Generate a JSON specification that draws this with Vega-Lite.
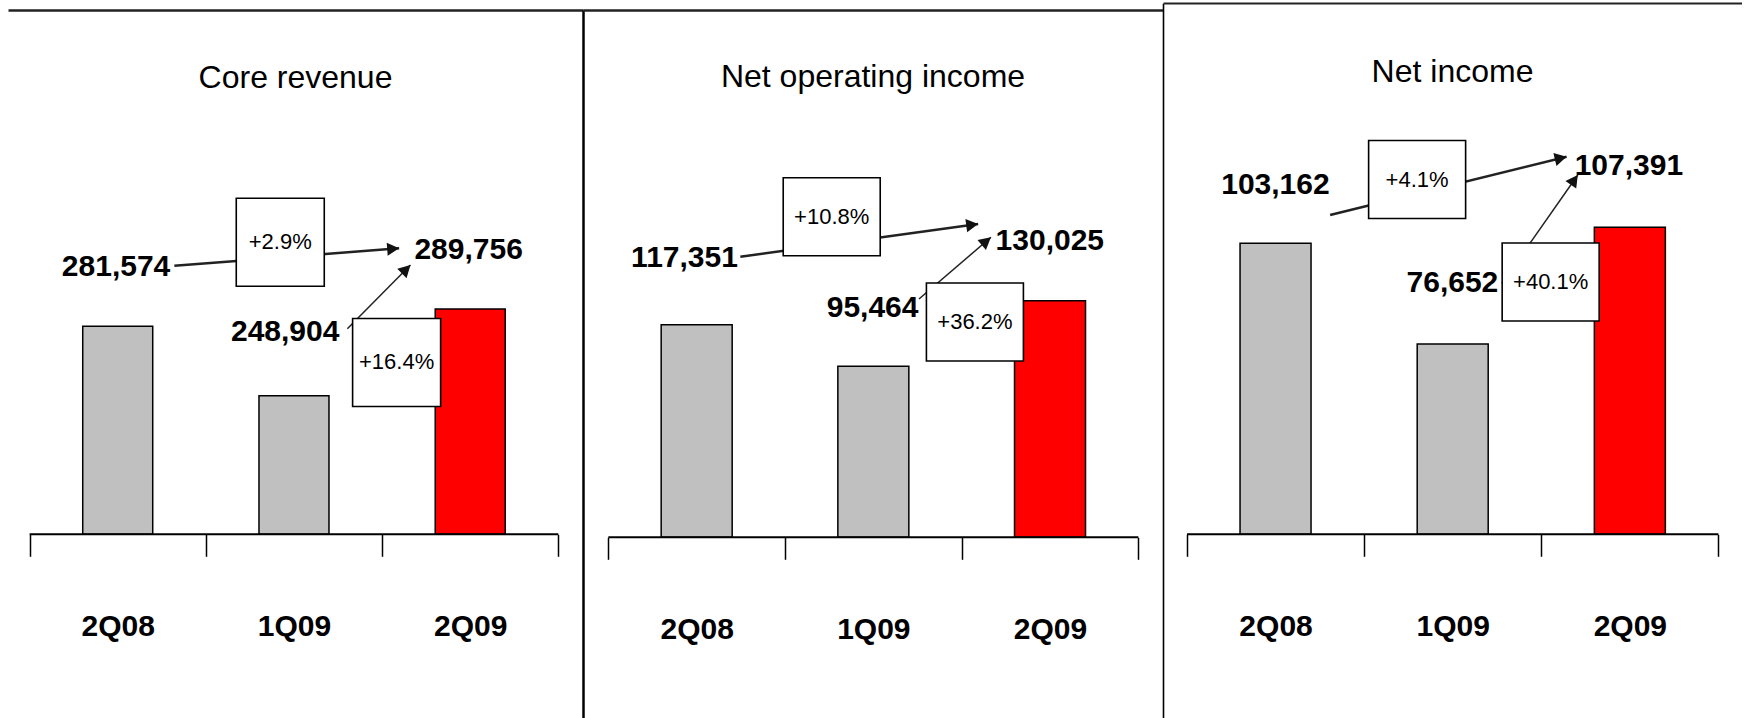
{
  "$schema": "https://vega.github.io/schema/vega-lite/v6.json",
  "background": "white",
  "padding": {"left": 8, "top": 0, "right": 0, "bottom": 0},
  "spacing": 0,
  "bounds": "flush",
  "config": {
    "view": {"stroke": null},
    "font": "Liberation Sans, Arial, sans-serif",
    "title": {"font": "Liberation Sans, Arial, sans-serif", "fontSize": 32, "fontWeight": "normal", "color": "#000", "anchor": "middle"},
    "text": {"font": "Liberation Sans, Arial, sans-serif", "color": "#000"}
  },
  "datasets": {
    "quarters": [
      {"metric": "Core revenue", "quarter": "2Q08", "pos": 1, "value": 281574, "label_pos": 0.9906, "label_at": 309710},
      {"metric": "Core revenue", "quarter": "1Q09", "pos": 2, "value": 248904, "label_pos": 1.9501, "label_at": 278679},
      {"metric": "Core revenue", "quarter": "2Q09", "pos": 3, "value": 289756, "label_pos": 2.991, "label_at": 317586},
      {"metric": "Net operating income", "quarter": "2Q08", "pos": 1, "value": 117351, "label_pos": 0.9311, "label_at": 152416},
      {"metric": "Net operating income", "quarter": "1Q09", "pos": 2, "value": 95464, "label_pos": 1.9958, "label_at": 126031},
      {"metric": "Net operating income", "quarter": "2Q09", "pos": 3, "value": 130025, "label_pos": 2.9988, "label_at": 161651},
      {"metric": "Net income", "quarter": "2Q08", "pos": 1, "value": 103162, "label_pos": 0.9993, "label_at": 118603},
      {"metric": "Net income", "quarter": "1Q09", "pos": 2, "value": 76652, "label_pos": 1.9983, "label_at": 92622},
      {"metric": "Net income", "quarter": "2Q09", "pos": 3, "value": 107391, "label_pos": 2.9946, "label_at": 123583}
    ],
    "changes": [
      {"metric": "Core revenue", "basis": "year", "change": 0.029, "box_pos": 1.9222, "box_at": 321264, "tail_pos": 1.3212, "tail_at": 310182, "head_pos": 2.5968, "head_at": 318388, "heading": 85.65},
      {"metric": "Core revenue", "basis": "quarter", "change": 0.164, "box_pos": 2.5823, "box_at": 264531, "tail_pos": 2.303, "tail_at": 280424, "head_pos": 2.6609, "head_at": 310512, "heading": 45.4},
      {"metric": "Net operating income", "basis": "year", "change": 0.108, "box_pos": 1.7644, "box_at": 174369, "tail_pos": 1.2471, "tail_at": 153261, "head_pos": 2.5933, "head_at": 170516, "heading": 82.3},
      {"metric": "Net operating income", "basis": "quarter", "change": 0.362, "box_pos": 2.5749, "box_at": 118802, "tail_pos": 2.2584, "tail_at": 130939, "head_pos": 2.6656, "head_at": 163498, "heading": 50.2},
      {"metric": "Net income", "basis": "year", "change": 0.041, "box_pos": 1.7992, "box_at": 119973, "tail_pos": 1.3082, "tail_at": 110619, "head_pos": 2.6429, "head_at": 125981, "heading": 76.4},
      {"metric": "Net income", "basis": "quarter", "change": 0.401, "box_pos": 2.553, "box_at": 92964, "tail_pos": 2.2773, "tail_at": 92622, "head_pos": 2.7062, "head_at": 121159, "heading": 35.5}
    ]
  },
  "hconcat": [
    {
      "width": 575,
      "height": 718,
      "title": {"text": "Core revenue", "offset": -94.7},
      "layer": [
        {
          "data": {"name": "quarters"},
          "transform": [{"filter": "datum.metric === 'Core revenue'"}],
          "mark": {"type": "bar", "width": 70, "stroke": "#000", "strokeWidth": 1.5},
          "encoding": {
            "x": {
              "field": "pos", "type": "quantitative",
              "scale": {"domain": [0.40578, 3.6115], "nice": false, "zero": false},
              "axis": {
                "orient": "bottom", "offset": -183.7, "title": null, "grid": false, "domain": false,
                "values": [0.5, 1, 1.5, 2, 2.5, 3, 3.5],
                "tickSize": 22, "tickColor": "#000", "tickWidth": 1.5,
                "tickOpacity": {"condition": {"test": "datum.value % 1 !== 0", "value": 1}, "value": 0},
                "labelExpr": "datum.value === 1 ? '2Q08' : datum.value === 2 ? '1Q09' : datum.value === 3 ? '2Q09' : ''",
                "labelFont": "Liberation Sans, Arial, sans-serif",
                "labelFontSize": 30, "labelFontWeight": "bold", "labelColor": "#000",
                "labelPadding": 70, "labelBaseline": "middle", "labelFlush": false, "labelOverlap": false, "labelBound": false
              }
            },
            "y": {
              "field": "value", "type": "quantitative",
              "scale": {"domain": [96877, 430770], "range": [718, 10], "nice": false, "zero": false},
              "axis": {"orient": "right", "title": null, "labels": false, "ticks": false, "domain": true, "domainColor": "#000", "domainWidth": 2.5, "grid": true, "values": [430770], "gridColor": "#222", "gridWidth": 2.5, "gridOpacity": 1}
            },
            "y2": {"datum": 183510},
            "color": {"field": "quarter", "type": "nominal", "scale": {"domain": ["2Q08", "1Q09", "2Q09"], "range": ["#C0C0C0", "#C0C0C0", "#FF0000"]}, "legend": null}
          }
        },
        {
          "data": {"values": [{}]},
          "mark": {"type": "rule", "color": "#000", "strokeWidth": 2},
          "encoding": {
            "x": {"datum": 0.5, "type": "quantitative", "title": null},
            "x2": {"datum": 3.5},
            "y": {"datum": 183510, "type": "quantitative", "title": null}
          }
        },
        {
          "data": {"name": "changes"},
          "transform": [{"filter": "datum.metric === 'Core revenue'"}],
          "mark": {"type": "rule", "color": "#222"},
          "encoding": {
            "x": {"field": "tail_pos", "type": "quantitative", "title": null},
            "x2": {"field": "head_pos"},
            "y": {"field": "tail_at", "type": "quantitative", "title": null},
            "y2": {"field": "head_at"},
            "strokeWidth": {"field": "basis", "type": "nominal", "scale": {"domain": ["year", "quarter"], "range": [2.5, 1.5]}, "legend": null}
          }
        },
        {
          "data": {"name": "changes"},
          "transform": [{"filter": "datum.metric === 'Core revenue'"}],
          "mark": {"type": "point", "shape": "M0,0L-0.55,1L0.55,1Z", "size": 576, "filled": true, "fill": "#111", "strokeWidth": 0, "opacity": 1},
          "encoding": {
            "x": {"field": "head_pos", "type": "quantitative", "title": null},
            "y": {"field": "head_at", "type": "quantitative", "title": null},
            "angle": {"field": "heading", "type": "quantitative", "scale": null}
          }
        },
        {
          "data": {"name": "changes"},
          "transform": [{"filter": "datum.metric === 'Core revenue'"}],
          "mark": {"type": "point", "shape": "square", "size": 7744, "filled": true, "fill": "#fff", "stroke": "#000", "strokeWidth": 1.6, "opacity": 1},
          "encoding": {
            "x": {"field": "box_pos", "type": "quantitative", "title": null},
            "y": {"field": "box_at", "type": "quantitative", "title": null}
          }
        },
        {
          "data": {"name": "changes"},
          "transform": [{"filter": "datum.metric === 'Core revenue'"}],
          "mark": {"type": "text", "fontSize": 22, "baseline": "middle", "align": "center"},
          "encoding": {
            "x": {"field": "box_pos", "type": "quantitative", "title": null},
            "y": {"field": "box_at", "type": "quantitative", "title": null},
            "text": {"field": "change", "type": "quantitative", "format": "+.1%"}
          }
        },
        {
          "data": {"name": "quarters"},
          "transform": [{"filter": "datum.metric === 'Core revenue'"}],
          "mark": {"type": "text", "fontSize": 30, "fontWeight": "bold", "baseline": "middle", "align": "center"},
          "encoding": {
            "x": {"field": "label_pos", "type": "quantitative", "title": null},
            "y": {"field": "label_at", "type": "quantitative", "title": null},
            "text": {"field": "value", "type": "quantitative", "format": ","}
          }
        }
      ]
    },
    {
      "width": 580,
      "height": 718,
      "title": {"text": "Net operating income", "offset": -94.2},
      "layer": [
        {
          "data": {"name": "quarters"},
          "transform": [{"filter": "datum.metric === 'Net operating income'"}],
          "mark": {"type": "bar", "width": 71, "stroke": "#000", "strokeWidth": 1.5},
          "encoding": {
            "x": {
              "field": "pos", "type": "quantitative",
              "scale": {"domain": [0.38485, 3.61125], "nice": false, "zero": false},
              "axis": {
                "orient": "bottom", "offset": -180.7, "title": null, "grid": false, "domain": false,
                "values": [0.5, 1, 1.5, 2, 2.5, 3, 3.5],
                "tickSize": 22, "tickColor": "#000", "tickWidth": 1.5,
                "tickOpacity": {"condition": {"test": "datum.value % 1 !== 0", "value": 1}, "value": 0},
                "labelExpr": "datum.value === 1 ? '2Q08' : datum.value === 2 ? '1Q09' : datum.value === 3 ? '2Q09' : ''",
                "labelFont": "Liberation Sans, Arial, sans-serif",
                "labelFontSize": 30, "labelFontWeight": "bold", "labelColor": "#000",
                "labelPadding": 70, "labelBaseline": "middle", "labelFlush": false, "labelOverlap": false, "labelBound": false
              }
            },
            "y": {
              "field": "value", "type": "quantitative",
              "scale": {"domain": [-90167, 286980], "range": [718, 3.3], "nice": false, "zero": false},
              "axis": {"orient": "right", "title": null, "labels": false, "ticks": false, "domain": true, "domainColor": "#000", "domainWidth": 1.6, "grid": true, "values": [283708], "gridColor": "#222", "gridWidth": 2.5, "gridOpacity": 1}
            },
            "y2": {"datum": 5188},
            "color": {"field": "quarter", "type": "nominal", "scale": {"domain": ["2Q08", "1Q09", "2Q09"], "range": ["#C0C0C0", "#C0C0C0", "#FF0000"]}, "legend": null}
          }
        },
        {
          "data": {"values": [{}]},
          "mark": {"type": "rule", "color": "#000", "strokeWidth": 2},
          "encoding": {
            "x": {"datum": 0.5, "type": "quantitative", "title": null},
            "x2": {"datum": 3.5},
            "y": {"datum": 5188, "type": "quantitative", "title": null}
          }
        },
        {
          "data": {"name": "changes"},
          "transform": [{"filter": "datum.metric === 'Net operating income'"}],
          "mark": {"type": "rule", "color": "#222"},
          "encoding": {
            "x": {"field": "tail_pos", "type": "quantitative", "title": null},
            "x2": {"field": "head_pos"},
            "y": {"field": "tail_at", "type": "quantitative", "title": null},
            "y2": {"field": "head_at"},
            "strokeWidth": {"field": "basis", "type": "nominal", "scale": {"domain": ["year", "quarter"], "range": [2.5, 1.5]}, "legend": null}
          }
        },
        {
          "data": {"name": "changes"},
          "transform": [{"filter": "datum.metric === 'Net operating income'"}],
          "mark": {"type": "point", "shape": "M0,0L-0.55,1L0.55,1Z", "size": 576, "filled": true, "fill": "#111", "strokeWidth": 0, "opacity": 1},
          "encoding": {
            "x": {"field": "head_pos", "type": "quantitative", "title": null},
            "y": {"field": "head_at", "type": "quantitative", "title": null},
            "angle": {"field": "heading", "type": "quantitative", "scale": null}
          }
        },
        {
          "data": {"name": "changes"},
          "transform": [{"filter": "datum.metric === 'Net operating income'"}],
          "mark": {"type": "point", "shape": "M-1,-0.804L1,-0.804L1,0.804L-1,0.804Z", "size": 9409, "filled": true, "fill": "#fff", "stroke": "#000", "strokeWidth": 1.6, "opacity": 1},
          "encoding": {
            "x": {"field": "box_pos", "type": "quantitative", "title": null},
            "y": {"field": "box_at", "type": "quantitative", "title": null}
          }
        },
        {
          "data": {"name": "changes"},
          "transform": [{"filter": "datum.metric === 'Net operating income'"}],
          "mark": {"type": "text", "fontSize": 22, "baseline": "middle", "align": "center"},
          "encoding": {
            "x": {"field": "box_pos", "type": "quantitative", "title": null},
            "y": {"field": "box_at", "type": "quantitative", "title": null},
            "text": {"field": "change", "type": "quantitative", "format": "+.1%"}
          }
        },
        {
          "data": {"name": "quarters"},
          "transform": [{"filter": "datum.metric === 'Net operating income'"}],
          "mark": {"type": "text", "fontSize": 30, "fontWeight": "bold", "baseline": "middle", "align": "center"},
          "encoding": {
            "x": {"field": "label_pos", "type": "quantitative", "title": null},
            "y": {"field": "label_at", "type": "quantitative", "title": null},
            "text": {"field": "value", "type": "quantitative", "format": ","}
          }
        }
      ]
    },
    {
      "width": 579,
      "height": 718,
      "title": {"text": "Net income", "offset": -89},
      "layer": [
        {
          "data": {"name": "quarters"},
          "transform": [{"filter": "datum.metric === 'Net income'"}],
          "mark": {"type": "bar", "width": 71, "stroke": "#000", "strokeWidth": 1.5},
          "encoding": {
            "x": {
              "field": "pos", "type": "quantitative",
              "scale": {"domain": [0.39294, 3.60484], "nice": false, "zero": false},
              "axis": {
                "orient": "bottom", "offset": -183.7, "title": null, "grid": false, "domain": false,
                "values": [0.5, 1, 1.5, 2, 2.5, 3, 3.5],
                "tickSize": 22, "tickColor": "#000", "tickWidth": 1.5,
                "tickOpacity": {"condition": {"test": "datum.value % 1 !== 0", "value": 1}, "value": 0},
                "labelExpr": "datum.value === 1 ? '2Q08' : datum.value === 2 ? '1Q09' : datum.value === 3 ? '2Q09' : ''",
                "labelFont": "Liberation Sans, Arial, sans-serif",
                "labelFontSize": 30, "labelFontWeight": "bold", "labelColor": "#000",
                "labelPadding": 70, "labelBaseline": "middle", "labelFlush": false, "labelOverlap": false, "labelBound": false
              }
            },
            "y": {
              "field": "value", "type": "quantitative",
              "scale": {"domain": [-21922, 166402], "range": [718, 3.3], "nice": false, "zero": false},
              "axis": {"orient": "right", "title": null, "labels": false, "ticks": false, "domain": true, "domainColor": "#888", "domainWidth": 1, "grid": true, "values": [166400], "gridColor": "#222", "gridWidth": 2, "gridOpacity": 1}
            },
            "y2": {"datum": 26483},
            "color": {"field": "quarter", "type": "nominal", "scale": {"domain": ["2Q08", "1Q09", "2Q09"], "range": ["#C0C0C0", "#C0C0C0", "#FF0000"]}, "legend": null}
          }
        },
        {
          "data": {"values": [{}]},
          "mark": {"type": "rule", "color": "#000", "strokeWidth": 2},
          "encoding": {
            "x": {"datum": 0.5, "type": "quantitative", "title": null},
            "x2": {"datum": 3.5},
            "y": {"datum": 26483, "type": "quantitative", "title": null}
          }
        },
        {
          "data": {"name": "changes"},
          "transform": [{"filter": "datum.metric === 'Net income'"}],
          "mark": {"type": "rule", "color": "#222"},
          "encoding": {
            "x": {"field": "tail_pos", "type": "quantitative", "title": null},
            "x2": {"field": "head_pos"},
            "y": {"field": "tail_at", "type": "quantitative", "title": null},
            "y2": {"field": "head_at"},
            "strokeWidth": {"field": "basis", "type": "nominal", "scale": {"domain": ["year", "quarter"], "range": [2.5, 1.5]}, "legend": null}
          }
        },
        {
          "data": {"name": "changes"},
          "transform": [{"filter": "datum.metric === 'Net income'"}],
          "mark": {"type": "point", "shape": "M0,0L-0.55,1L0.55,1Z", "size": 576, "filled": true, "fill": "#111", "strokeWidth": 0, "opacity": 1},
          "encoding": {
            "x": {"field": "head_pos", "type": "quantitative", "title": null},
            "y": {"field": "head_at", "type": "quantitative", "title": null},
            "angle": {"field": "heading", "type": "quantitative", "scale": null}
          }
        },
        {
          "data": {"name": "changes"},
          "transform": [{"filter": "datum.metric === 'Net income'"}],
          "mark": {"type": "point", "shape": "M-1,-0.804L1,-0.804L1,0.804L-1,0.804Z", "size": 9409, "filled": true, "fill": "#fff", "stroke": "#000", "strokeWidth": 1.6, "opacity": 1},
          "encoding": {
            "x": {"field": "box_pos", "type": "quantitative", "title": null},
            "y": {"field": "box_at", "type": "quantitative", "title": null}
          }
        },
        {
          "data": {"name": "changes"},
          "transform": [{"filter": "datum.metric === 'Net income'"}],
          "mark": {"type": "text", "fontSize": 22, "baseline": "middle", "align": "center"},
          "encoding": {
            "x": {"field": "box_pos", "type": "quantitative", "title": null},
            "y": {"field": "box_at", "type": "quantitative", "title": null},
            "text": {"field": "change", "type": "quantitative", "format": "+.1%"}
          }
        },
        {
          "data": {"name": "quarters"},
          "transform": [{"filter": "datum.metric === 'Net income'"}],
          "mark": {"type": "text", "fontSize": 30, "fontWeight": "bold", "baseline": "middle", "align": "center"},
          "encoding": {
            "x": {"field": "label_pos", "type": "quantitative", "title": null},
            "y": {"field": "label_at", "type": "quantitative", "title": null},
            "text": {"field": "value", "type": "quantitative", "format": ","}
          }
        }
      ]
    }
  ]
}
